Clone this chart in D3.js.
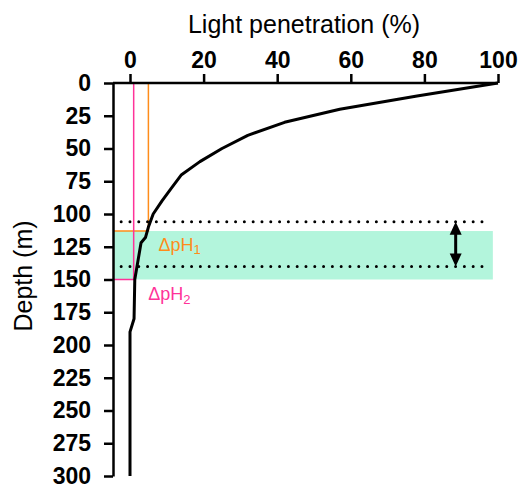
<!DOCTYPE html>
<html>
<head>
<meta charset="utf-8">
<script src="https://cdn.jsdelivr.net/npm/d3@7"></script>
<style>
  body { margin: 0; background: #fff; }
  svg { display: block; font-family: "Liberation Sans", Arial, sans-serif; }
  .axis text { font-weight: bold; font-size: 23px; fill: #000; }
  .axis line, .axis path { stroke: #000; stroke-width: 2.5px; }
</style>
</head>
<body>
<div id="graphic"></div>
<script>
// light penetration profile
const depths = [0, 10, 20, 30, 40, 50, 60, 70, 80, 90, 100, 110, 118, 122, 150, 180, 190, 300];
const light = [100, 78, 57, 42, 32, 25, 19, 14, 11.3, 8.7, 6.3, 5.0, 4.2, 3.0, 1.3, 1.1, 0, 0];

const xTicks = [0, 20, 40, 60, 80, 100];
const yTicks = [0, 25, 50, 75, 100, 125, 150, 175, 200, 225, 250, 275, 300];

// annotations
const markers = [
  { name: "ΔpH", sub: "1", pct: 5, depth: 113, colour: "#ff8c1a" },
  { name: "ΔpH", sub: "2", pct: 1, depth: 150, colour: "#ff3399" }
];
const dottedDepths = [106, 140];
const band = [113, 150];
const arrowPct = 88.5;

const width = 521, height = 491;
const margin = { top: 83, left: 113 };

const svg = d3.select('#graphic').append('svg')
  .attr('width', width)
  .attr('height', height);

const x = d3.scaleLinear().domain([0, 100]).range([130, 498]);
const y = d3.scaleLinear().domain([0, 300]).range([83, 476]);

// shaded band
svg.append('rect')
  .attr('x', margin.left)
  .attr('y', y(band[0]))
  .attr('width', x(98.6) - margin.left)
  .attr('height', y(band[1]) - y(band[0]))
  .attr('fill', '#b3f5dc');

// marker lines
markers.forEach(function (m) {
  svg.append('path')
    .attr('d', 'M' + x(m.pct) + ',' + y(0) + 'V' + y(m.depth) + 'H' + margin.left)
    .attr('fill', 'none')
    .attr('stroke', m.colour)
    .attr('stroke-width', 1.5);
});

// dotted reference lines
svg.selectAll('line.dots')
  .data(dottedDepths)
  .join('line')
  .attr('class', 'dots')
  .attr('x1', x(-2.4)).attr('x2', x(98))
  .attr('y1', d => y(d)).attr('y2', d => y(d))
  .attr('stroke', '#000')
  .attr('stroke-width', 3)
  .attr('stroke-linecap', 'round')
  .attr('stroke-dasharray', '0 8.8');

// axes
svg.append('g').attr('class', 'x axis')
  .attr('transform', 'translate(0,' + margin.top + ')')
  .call(d3.axisTop(x).tickValues(xTicks).tickSize(9).tickSizeOuter(0).tickPadding(6))
  .call(g => g.select('.domain').remove());

svg.append('line')
  .attr('x1', margin.left).attr('x2', x(100))
  .attr('y1', margin.top).attr('y2', margin.top)
  .attr('stroke', '#000').attr('stroke-width', 2.5);

svg.append('g').attr('class', 'y axis')
  .attr('transform', 'translate(' + margin.left + ',0)')
  .call(d3.axisLeft(y).tickValues(yTicks).tickSize(9).tickSizeOuter(0).tickPadding(13));

// profile
const line = d3.line()
  .x((d, i) => x(light[i]))
  .y(d => y(d));

svg.append('path')
  .attr('d', line(depths))
  .attr('fill', 'none')
  .attr('stroke', '#000')
  .attr('stroke-width', 3)
  .attr('stroke-linejoin', 'round');

// marker labels
const offsets = [{ dx: 10, dy: 7 }, { dx: 14.6, dy: 8 }];
markers.forEach(function (m, i) {
  const t = svg.append('text')
    .attr('x', x(m.pct) + offsets[i].dx)
    .attr('y', y(m.depth) + offsets[i].dy)
    .attr('font-size', 18)
    .attr('dominant-baseline', 'hanging')
    .attr('fill', m.colour)
    .text(m.name);
  t.append('tspan')
    .attr('font-size', 13)
    .attr('dy', 6)
    .text(m.sub);
});

// double arrow
const ax = x(arrowPct);
svg.append('line')
  .attr('x1', ax).attr('x2', ax)
  .attr('y1', y(dottedDepths[0]) + 8).attr('y2', y(dottedDepths[1]) - 8)
  .attr('stroke', '#000').attr('stroke-width', 3);
svg.append('path')
  .attr('d', 'M' + ax + ',' + y(dottedDepths[0]) + 'l6,13h-12z')
  .attr('fill', '#000');
svg.append('path')
  .attr('d', 'M' + ax + ',' + y(dottedDepths[1]) + 'l6,-13h-12z')
  .attr('fill', '#000');

// titles
svg.append('text')
  .attr('x', 304)
  .attr('y', 32.7)
  .attr('text-anchor', 'middle')
  .attr('font-size', 25)
  .text('Light penetration (%)');

svg.append('text')
  .attr('transform', 'translate(32,276) rotate(-90)')
  .attr('text-anchor', 'middle')
  .attr('font-size', 25)
  .text('Depth (m)');
</script>
</body>
</html>
